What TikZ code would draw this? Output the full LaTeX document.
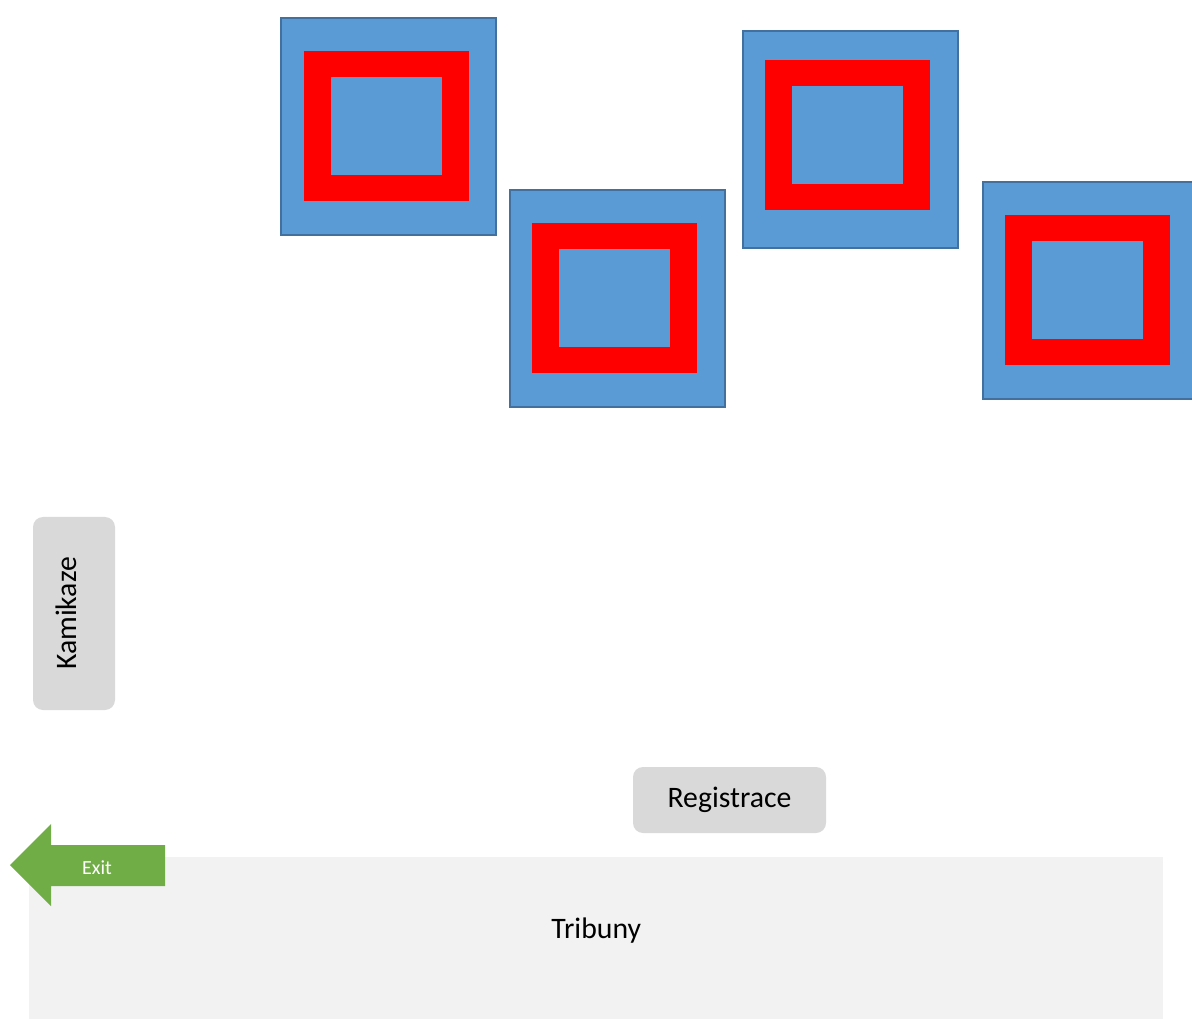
\documentclass[tikz,border=0pt]{standalone}
\usepackage{fontspec}
\setmainfont{Carlito}
\usepackage{xcolor}
\usetikzlibrary{positioning}

\definecolor{boothblue}{HTML}{5B9BD5}
\definecolor{boothedge}{HTML}{41719C}
\definecolor{tagfill}{HTML}{D9D9D9}
\definecolor{standfill}{HTML}{F2F2F2}
\definecolor{exitgreen}{HTML}{70AD47}

\begin{document}
\begin{tikzpicture}[x=0.75pt, y=-0.75pt,
    booth/.style={draw=boothedge, line width=1.5pt, fill=boothblue, inner sep=0pt,
        minimum width=161.25pt, minimum height=162.75pt, anchor=north west},
    frame/.style={fill=red, inner sep=0pt, minimum width=123.75pt, minimum height=112.5pt, anchor=north west},
    core/.style={fill=boothblue, inner sep=0pt, minimum width=83.25pt, minimum height=73.5pt},
    big/.style={font=\fontsize{22.3}{27}\selectfont},
    tag/.style={fill=tagfill, rounded corners=7.5pt, inner sep=0pt}]
    \useasboundingbox (0,0) rectangle (1192,1019);

    % stanoviste
    \foreach \name/\bx/\by/\rx/\ry in {a/280/17/304/51, b/509/189/532/223, c/742/30/765/60, d/982/181/1005/215} {
        \node[booth] (booth\name) at (\bx,\by) {};
        \node[frame] (frame\name) at (\rx,\ry) {};
        \node[core] (core\name) at (frame\name.center) {};
    }

    % tribuny
    \node[fill=standfill, inner sep=0pt, minimum width=850.5pt, minimum height=121.5pt, anchor=north west] (tribuny) at (29,857) {};
    \node[big] (tribunytext) at ([yshift=6pt]tribuny.center) {Tribuny};

    % popisky
    \node[tag, minimum width=61.5pt, minimum height=144.75pt] (kamikaze) at (74,613.5) {};
    \node[big, rotate=90] (kamikazetext) at ([xshift=-5.5pt]kamikaze.center) {Kamikaze};
    \node[tag, big, minimum width=144.75pt, minimum height=49.5pt] (registrace) at (729.5,800) {Registrace};

    % vychod
    \fill[exitgreen] (10,865) -- (51,824) -- (51,845) -- (165,845) -- (165,886) -- (51,886) -- (51,906) -- cycle;
    \node[white, font=\fontsize{15}{18}\selectfont] (exit) at (97,868) {Exit};
\end{tikzpicture}
\end{document}
